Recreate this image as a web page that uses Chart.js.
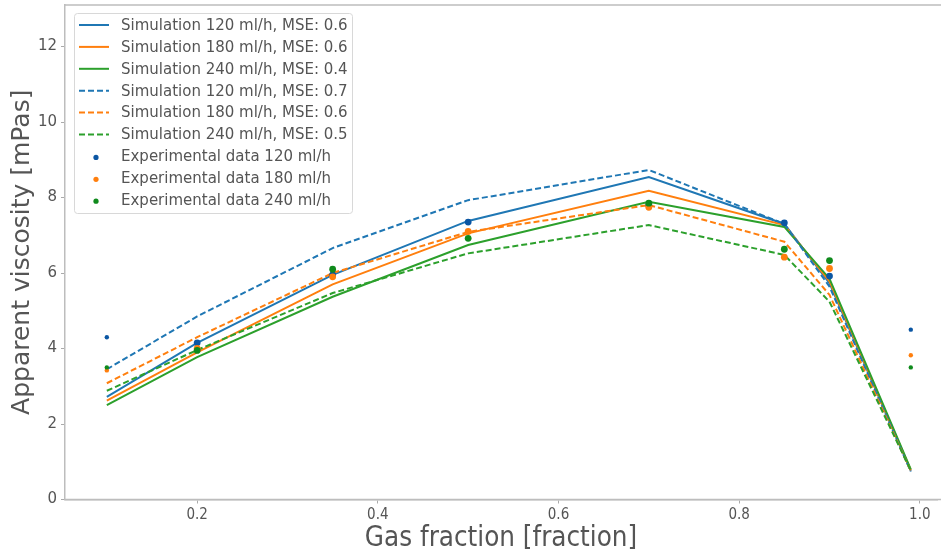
<!DOCTYPE html>
<html>
<head>
<meta charset="utf-8">
<script src="https://cdn.jsdelivr.net/npm/chart.js@4.4.1/dist/chart.umd.min.js"></script>
<style>
  html,body{margin:0;padding:0;background:#fff;}
  #wrap{width:941px;height:557px;}
</style>
</head>
<body>
<div id="wrap"><canvas id="chart" width="941" height="557"></canvas></div>
<script>
// values
const gasFraction=[0.1,0.2,0.35,0.5,0.7,0.85,0.9,0.99];
const sim120=[2.72,4.15,5.95,7.38,8.54,7.3,5.73,0.76];
const sim180=[2.62,3.9,5.7,7.05,8.18,7.27,5.78,0.77];
const sim240=[2.5,3.77,5.37,6.74,7.89,7.22,5.85,0.8];
const sim120b=[3.45,4.85,6.66,7.93,8.73,7.3,5.64,0.74];
const sim180b=[3.08,4.3,6.0,7.09,7.8,6.83,5.42,0.76];
const sim240b=[2.88,3.96,5.47,6.52,7.27,6.48,5.24,0.77];
const exp120=[4.3,4.15,5.95,7.35,7.8,7.33,5.92,4.5];
const exp180=[3.42,4.0,5.9,7.1,7.74,6.42,6.12,3.82];
const exp240=[3.5,3.95,6.1,6.92,7.85,6.63,6.33,3.5];
const xTicks=[0.2,0.4,0.6,0.8,1.0];
const yTicks=[0,2,4,6,8,10,12];

const C0='#1f77b4',C1='#ff7f0e',C2='#2ca02c';
const greyText='#555555';
const narrow='"DejaVu Sans Condensed","Liberation Sans Narrow","DejaVu Sans"';

function pts(ys){
    return gasFraction.map(function(x,i){return {x:x,y:ys[i]};});
}
function simLine(label,ys,color,dashed,order){
    return {label:label,data:pts(ys),borderColor:color,backgroundColor:color,
        borderWidth:2,borderDash:dashed?[6,3]:[],pointRadius:0,tension:0,
        fill:false,order:order};
}
function expPoints(label,ys,color,order){
    return {label:label,data:pts(ys),showLine:false,borderColor:color,backgroundColor:color,
        pointBorderWidth:0,
        pointRadius:function(c){return (c.dataIndex===0||c.dataIndex===gasFraction.length-1)?2.2:3.4;},
        order:order,isExp:true};
}

// spines + legend drawn inside the axes, matplotlib style
const boxLegend={
    id:'boxLegend',
    afterDatasetsDraw:function(chart){
        const ctx=chart.ctx;
        const a=chart.chartArea;
        ctx.save();
        ctx.strokeStyle='#bdbdbd';
        ctx.lineWidth=1.5;
        ctx.beginPath();
        ctx.moveTo(a.left,a.top);
        ctx.lineTo(chart.width,a.top);
        ctx.moveTo(a.left,a.bottom);
        ctx.lineTo(chart.width,a.bottom);
        ctx.stroke();
        const x0=74,y0=13,w=278,h=200;
        ctx.fillStyle='rgba(255,255,255,0.85)';
        ctx.strokeStyle='#d8d8d8';
        ctx.lineWidth=1;
        ctx.beginPath();
        ctx.roundRect(x0+0.5,y0+0.5,w,h,3);
        ctx.fill();
        ctx.stroke();
        ctx.font='15px "DejaVu Sans"';
        ctx.textBaseline='middle';
        chart.data.datasets.forEach(function(ds,i){
            const y=25+i*21.9;
            if(ds.isExp){
                ctx.fillStyle=ds.backgroundColor;
                ctx.beginPath();
                ctx.arc(96,y+1,2.6,0,Math.PI*2);
                ctx.fill();
            }else{
                ctx.strokeStyle=ds.borderColor;
                ctx.lineWidth=2;
                ctx.setLineDash(ds.borderDash);
                ctx.beginPath();
                ctx.moveTo(79,y);
                ctx.lineTo(109,y);
                ctx.stroke();
                ctx.setLineDash([]);
            }
            ctx.fillStyle=greyText;
            ctx.fillText(ds.label,121,y+1);
        });
        ctx.restore();
    }
};

const ctx=document.getElementById('chart').getContext('2d');
const myChart=new Chart(ctx,{
    type:'line',
    data:{
        datasets:[
            simLine('Simulation 120 ml/h, MSE: 0.6',sim120,C0,false,6),
            simLine('Simulation 180 ml/h, MSE: 0.6',sim180,C1,false,5),
            simLine('Simulation 240 ml/h, MSE: 0.4',sim240,C2,false,4),
            simLine('Simulation 120 ml/h, MSE: 0.7',sim120b,C0,true,3),
            simLine('Simulation 180 ml/h, MSE: 0.6',sim180b,C1,true,2),
            simLine('Simulation 240 ml/h, MSE: 0.5',sim240b,C2,true,1),
            expPoints('Experimental data 120 ml/h',exp120,'#0b56a3',0),
            expPoints('Experimental data 180 ml/h',exp180,'#ff7f0e',-1),
            expPoints('Experimental data 240 ml/h',exp240,'#0f8a1c',-2),
        ],
    },
    options:{
        responsive:false,
        animation:false,
        devicePixelRatio:1,
        layout:{padding:{top:5,right:0,left:0,bottom:0}},
        plugins:{legend:{display:false},tooltip:{enabled:false}},
        scales:{
            x:{
                type:'linear',
                min:0.0537,
                max:1.019,
                afterFit:function(s){s.height=57.5;s.paddingLeft=0;s.paddingRight=0;},
                afterBuildTicks:function(s){s.ticks=xTicks.map(function(v){return {value:v};});},
                grid:{display:true,drawOnChartArea:false,drawTicks:true,tickLength:4,color:'#aaaaaa'},
                border:{display:true,color:'#bdbdbd',width:1.5},
                ticks:{color:greyText,padding:3,maxRotation:0,
                    font:{family:narrow,size:15},
                    callback:function(v){return v.toFixed(1);}},
                title:{display:true,text:'Gas fraction [fraction]',color:greyText,
                    font:{family:narrow,size:27.5},
                    padding:{top:0,bottom:2}},
            },
            y:{
                min:0,
                max:13.1,
                afterFit:function(s){s.width=65;s.paddingTop=0;s.paddingBottom=0;},
                afterBuildTicks:function(s){s.ticks=yTicks.map(function(v){return {value:v};});},
                grid:{display:true,drawOnChartArea:false,drawTicks:true,tickLength:4,color:'#aaaaaa'},
                border:{display:true,color:'#bdbdbd',width:1.5},
                ticks:{color:greyText,padding:4,font:{family:'"DejaVu Sans"',size:15}},
                title:{display:true,text:'Apparent viscosity [mPas]',color:greyText,
                    font:{family:'"DejaVu Sans"',size:25},
                    padding:{top:7,bottom:0}},
            },
        },
    },
    plugins:[boxLegend],
});
</script>
</body>
</html>
